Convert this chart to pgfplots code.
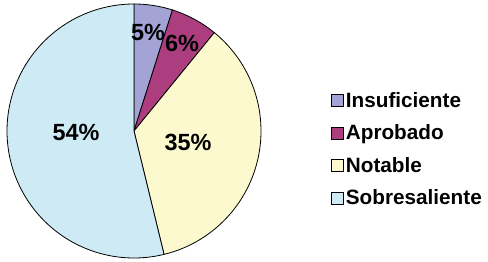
\documentclass[border=0pt]{standalone}
\usepackage{pgfplots}
\pgfplotsset{compat=1.18}
\usepackage{pgfplotstable}
\usepackage{fontspec}
\setmainfont{Liberation Sans}
\definecolor{cInsuf}{RGB}{163,163,214}
\definecolor{cApro}{RGB}{172,62,128}
\definecolor{cNot}{RGB}{252,249,207}
\definecolor{cSob}{RGB}{206,234,244}
\pgfplotstableread{
label value
Insuficiente 4.9
Aprobado 6.0
Notable 35.3
Sobresaliente 53.8
}\piedata
\begin{document}%
\begin{tikzpicture}
\pgfplotstablegetelem{0}{value}\of\piedata\pgfmathsetmacro\vA{\pgfplotsretval}
\pgfplotstablegetelem{1}{value}\of\piedata\pgfmathsetmacro\vB{\pgfplotsretval}
\pgfplotstablegetelem{2}{value}\of\piedata\pgfmathsetmacro\vC{\pgfplotsretval}
\pgfplotstablegetelem{3}{value}\of\piedata\pgfmathsetmacro\vD{\pgfplotsretval}
\pgfmathsetmacro\aA{3.6*\vA}
\pgfmathsetmacro\aB{\aA+3.6*\vB}
\pgfmathsetmacro\aC{\aB+3.6*\vC}
\pgfmathsetmacro\aD{\aC+3.6*\vD}
\begin{axis}[
  width=488bp, height=262bp, scale only axis,
  xmin=0, xmax=488, ymin=0, ymax=262,
  hide axis, clip=false,
  legend style={at={(axis cs:331,172)}, anchor=north west, draw=none, fill=none,
    font=\bfseries\fontsize{20.8}{23}\selectfont, row sep=12bp, inner sep=0pt,
    /tikz/every even column/.append style={column sep=3.5bp}},
  legend cell align=left,
  legend image code/.code={\draw[#1,line width=0.7pt] (0bp,-6bp) rectangle (12bp,6bp);},
]
\addplot[fill=cInsuf, draw=black, line width=0.8pt, domain=0:\aA, samples=30]
  ({134+127*sin(x)},{131+127*cos(x)}) -- (axis cs:134,131) -- cycle;
\addplot[fill=cApro, draw=black, line width=0.8pt, domain=\aA:\aB, samples=30]
  ({134+127*sin(x)},{131+127*cos(x)}) -- (axis cs:134,131) -- cycle;
\addplot[fill=cNot, draw=black, line width=0.8pt, domain=\aB:\aC, samples=100]
  ({134+127*sin(x)},{131+127*cos(x)}) -- (axis cs:134,131) -- cycle;
\addplot[fill=cSob, draw=black, line width=0.8pt, domain=\aC:\aD, samples=150]
  ({134+127*sin(x)},{131+127*cos(x)}) -- (axis cs:134,131) -- cycle;
\legend{Insuficiente,Aprobado,Notable,Sobresaliente}
\begin{scope}[every node/.style={font=\bfseries\fontsize{23.5}{26}\selectfont, inner sep=0pt}]
\node at (axis cs:148,230) {5\%};
\node at (axis cs:182,219) {6\%};
\node at (axis cs:188,120) {35\%};
\node at (axis cs:76,130) {54\%};
\end{scope}
\coordinate (BL) at (axis cs:0,0);
\coordinate (TR) at (axis cs:488,262);
\end{axis}
\pgfresetboundingbox
\path (BL) rectangle (TR);
\end{tikzpicture}%
\end{document}
